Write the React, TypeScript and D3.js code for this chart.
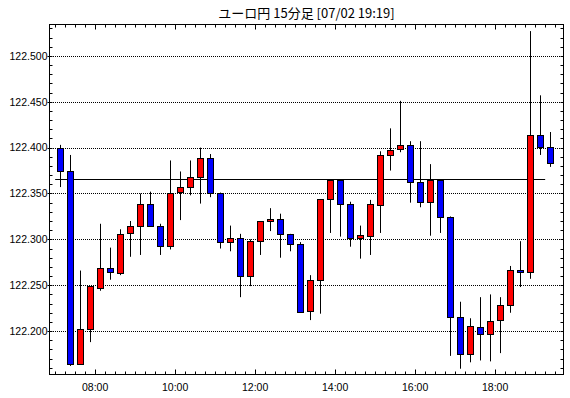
import React, { useEffect, useRef } from 'react';
import * as d3 from 'd3';

const title = 'ユーロ円 15分足 [07/02 19:19]';

const times = [
  '07:00', '07:15', '07:30', '07:45', '08:00', '08:15', '08:30', '08:45', '09:00', '09:15',
  '09:30', '09:45', '10:00', '10:15', '10:30', '10:45', '11:00', '11:15', '11:30', '11:45',
  '12:00', '12:15', '12:30', '12:45', '13:00', '13:15', '13:30', '13:45', '14:00', '14:15',
  '14:30', '14:45', '15:00', '15:15', '15:30', '15:45', '16:00', '16:15', '16:30', '16:45',
  '17:00', '17:15', '17:30', '17:45', '18:00', '18:15', '18:30', '18:45', '19:00', '19:15',
];

const opens = [
  122.400, 122.375, 122.164, 122.202, 122.247, 122.269, 122.263, 122.307, 122.315, 122.339,
  122.315, 122.293, 122.352, 122.357, 122.368, 122.389, 122.351, 122.297, 122.302, 122.260,
  122.298, 122.320, 122.322, 122.306, 122.295, 122.222, 122.256, 122.344, 122.365, 122.339,
  122.301, 122.304, 122.338, 122.392, 122.398, 122.403, 122.363, 122.341, 122.365, 122.324,
  122.215, 122.175, 122.204, 122.197, 122.212, 122.228, 122.267, 122.264, 122.414, 122.401,
];
const highs = [
  122.403, 122.392, 122.266, 122.249, 122.317, 122.291, 122.311, 122.320, 122.350, 122.352,
  122.317, 122.386, 122.374, 122.386, 122.400, 122.393, 122.351, 122.315, 122.306, 122.300,
  122.320, 122.334, 122.328, 122.306, 122.297, 122.261, 122.344, 122.365, 122.365, 122.341,
  122.315, 122.343, 122.396, 122.421, 122.451, 122.407, 122.407, 122.382, 122.365, 122.325,
  122.232, 122.214, 122.237, 122.240, 122.237, 122.271, 122.298, 122.527, 122.457, 122.417,
];
const lows = [
  122.357, 122.162, 122.164, 122.188, 122.244, 122.256, 122.261, 122.281, 122.283, 122.315,
  122.283, 122.289, 122.321, 122.348, 122.339, 122.346, 122.290, 122.287, 122.237, 122.249,
  122.283, 122.309, 122.280, 122.287, 122.221, 122.212, 122.219, 122.307, 122.303, 122.292,
  122.279, 122.283, 122.307, 122.375, 122.395, 122.340, 122.335, 122.304, 122.307, 122.173,
  122.159, 122.166, 122.168, 122.167, 122.176, 122.220, 122.248, 122.257, 122.392, 122.379,
];
const closes = [
  122.375, 122.164, 122.202, 122.249, 122.269, 122.264, 122.306, 122.315, 122.339, 122.315,
  122.293, 122.351, 122.357, 122.368, 122.389, 122.351, 122.297, 122.302, 122.260, 122.298,
  122.320, 122.322, 122.306, 122.295, 122.221, 122.256, 122.344, 122.365, 122.339, 122.301,
  122.305, 122.339, 122.392, 122.397, 122.403, 122.363, 122.341, 122.365, 122.324, 122.215,
  122.175, 122.206, 122.197, 122.211, 122.228, 122.267, 122.264, 122.414, 122.401, 122.383,
];

const refLevel = 122.366;
const yTicks = [122.2, 122.25, 122.3, 122.35, 122.4, 122.45, 122.5];
const xLabels = ['08:00', '10:00', '12:00', '14:00', '16:00', '18:00'];

const parse = (s: string) => {
  const [h, m] = s.split(':').map(Number);
  return new Date(2019, 6, 2, h, m);
};

const Candles = ({ width, height }: { width: number; height: number }) => {
  const ref = useRef<SVGSVGElement>(null);

  useEffect(() => {
    if (!ref.current) return;
    const svg = d3.select(ref.current);
    svg.selectAll('*').remove();

    const left = 49.5, right = 563.5, top = 24.5, bottom = 374.5;
    const fontNum = '"Liberation Sans", Arial, sans-serif';

    const x = d3.scaleTime()
      .domain([new Date(2019, 6, 2, 6, 51, 30), new Date(2019, 6, 2, 19, 42, 30)])
      .range([left, right]);
    const y = d3.scaleLinear().domain([122.1527, 122.5342]).range([bottom, top]);
    const half = 7.5 * 60 * 1000; // candles sit in the middle of their 15 min slot
    const px = (v: number) => Math.round(v) + 0.5;

    svg.append('text')
      .attr('x', (left + right) / 2)
      .attr('y', 18)
      .attr('text-anchor', 'middle')
      .style('font-family', '"Noto Sans CJK JP", sans-serif')
      .style('font-size', '13px')
      .text(title);

    // dotted grid (start on a whole pixel so the dots stay crisp)
    yTicks.forEach(v => {
      svg.append('line')
        .attr('x1', left + 1.5).attr('x2', right)
        .attr('y1', px(y(v))).attr('y2', px(y(v)))
        .attr('stroke', '#000').attr('stroke-dasharray', '1,1');
      svg.append('line')
        .attr('x1', left - 2).attr('x2', left)
        .attr('y1', px(y(v))).attr('y2', px(y(v)))
        .attr('stroke', '#000');
      svg.append('text')
        .attr('x', left - 2)
        .attr('y', y(v))
        .attr('dy', '0.36em')
        .attr('text-anchor', 'end')
        .style('font-family', fontNum)
        .style('font-size', '10.5px')
        .text(d3.format('.3f')(v));
    });

    // minor y ticks every 0.01
    d3.range(122.16, 122.535, 0.01).forEach(v => {
      const yy = px(y(v));
      svg.append('line').attr('x1', left).attr('x2', left + 3).attr('y1', yy).attr('y2', yy).attr('stroke', '#000');
      svg.append('line').attr('x1', right - 3).attr('x2', right).attr('y1', yy).attr('y2', yy).attr('stroke', '#000');
    });

    // x ticks every 15 minutes, longer on the labelled ones
    const labelSet = new Set(xLabels);
    const fmt = d3.timeFormat('%H:%M');
    d3.timeMinute.every(15)!.range(x.domain()[0], x.domain()[1]).forEach(t => {
      const xx = px(x(t));
      const len = labelSet.has(fmt(t)) ? 5 : 3;
      svg.append('line').attr('x1', xx).attr('x2', xx).attr('y1', top).attr('y2', top + len).attr('stroke', '#000');
      svg.append('line').attr('x1', xx).attr('x2', xx).attr('y1', bottom - len).attr('y2', bottom).attr('stroke', '#000');
    });
    xLabels.forEach(s => {
      svg.append('text')
        .attr('x', x(parse(s)))
        .attr('y', 390.5)
        .attr('text-anchor', 'middle')
        .style('font-family', fontNum)
        .style('font-size', '10.5px')
        .text(s);
    });

    // reference line
    svg.append('line')
      .attr('x1', x(parse(times[0]))).attr('x2', x(parse(times[times.length - 1])))
      .attr('y1', px(y(refLevel))).attr('y2', px(y(refLevel)))
      .attr('stroke', '#000').attr('stroke-width', 1.2);

    // candles
    times.forEach((s, i) => {
      const cx = px(x(new Date(parse(s).getTime() + half)));
      const o = opens[i], c = closes[i];
      svg.append('line')
        .attr('x1', cx).attr('x2', cx)
        .attr('y1', y(highs[i])).attr('y2', y(lows[i]))
        .attr('stroke', '#000');
      const yTop = Math.round(y(Math.max(o, c))) + 0.5;
      const yBot = Math.round(y(Math.min(o, c))) + 0.5;
      svg.append('rect')
        .attr('x', cx - 3)
        .attr('y', yTop)
        .attr('width', 6)
        .attr('height', Math.max(1, yBot - yTop))
        .attr('fill', c >= o ? '#ff0000' : '#0000ff')
        .attr('stroke', '#000');
    });

    svg.append('rect')
      .attr('x', left).attr('y', top)
      .attr('width', right - left).attr('height', bottom - top)
      .attr('fill', 'none').attr('stroke', '#000');
  }, [width, height]);

  return <svg ref={ref} width={width} height={height} style={{ position: 'fixed', left: 0, top: 0, background: '#fff' }} />;
};

export default function App() {
  return <Candles width={570} height={398} />;
}
